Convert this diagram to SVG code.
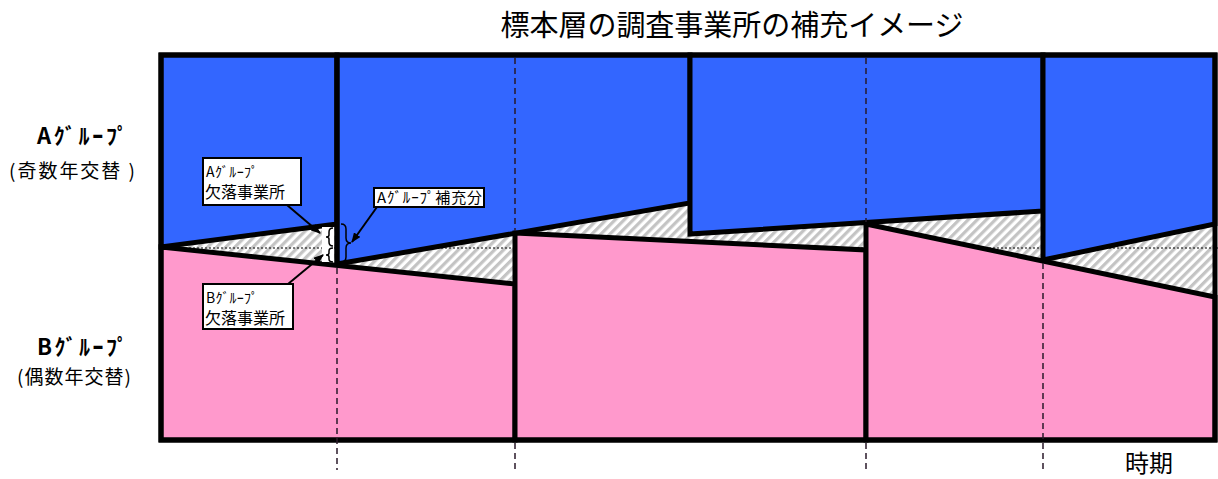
<svg xmlns="http://www.w3.org/2000/svg" width="1218" height="479" viewBox="0 0 1218 479">
<style>
.a{fill:#3366FF;stroke:#000;stroke-width:5;stroke-linejoin:miter}
.b{fill:#FF99CC;stroke:#000;stroke-width:5;stroke-linejoin:miter}
.dash{stroke:#2a1a2a;stroke-width:1.5;stroke-dasharray:6,4;fill:none}
.t{font-family:"Noto Sans CJK JP","Liberation Sans",sans-serif;fill:#000}
.box{fill:#fff;stroke:#000;stroke-width:2}
.arr{stroke:#000;stroke-width:2;fill:none;marker-end:url(#ah)}
.br{stroke:#000;stroke-width:1.5;fill:none}
</style>
<defs>
<pattern id="hatch" width="6.4" height="6.4" patternUnits="userSpaceOnUse" patternTransform="rotate(45)">
<rect width="6.4" height="6.4" fill="#fff"/>
<rect width="3.2" height="6.4" fill="#c4c4c4"/>
</pattern>
<marker id="ah" markerWidth="10" markerHeight="8" refX="9" refY="4" orient="auto" markerUnits="userSpaceOnUse">
<path d="M0,0 L10,4 L0,8 z" fill="#000"/>
</marker>
</defs>
<rect width="1218" height="479" fill="#fff"/>
<text class="t" x="732" y="36" font-size="29" text-anchor="middle" textLength="463" lengthAdjust="spacing">標本層の調査事業所の補充イメージ</text>
<g id="chart">
<rect x="161" y="195" width="1054" height="105" fill="url(#hatch)"/>
<line x1="161" y1="248" x2="1218" y2="248" stroke="#000" stroke-width="1" stroke-dasharray="2,2"/>
<g id="a1"><polygon class="a" points="161,55 337,55 337,224 161,247"/></g>
<g id="a2"><polygon class="a" points="337,55 690,55 690,203 337,264"/></g>
<g id="a3"><polygon class="a" points="690,55 1043,55 1043,211 690,234"/></g>
<g id="a4"><polygon class="a" points="1043,55 1215,55 1215,224 1043,260"/></g>
<g id="b1"><polygon class="b" points="161,247 515,284 515,440 161,440"/></g>
<g id="b2"><polygon class="b" points="515,233 866,250 866,440 515,440"/></g>
<g id="b3"><polygon class="b" points="866,224 1215,297 1215,440 866,440"/></g>
<rect x="161" y="55" width="1054" height="385" fill="none" stroke="#000" stroke-width="5"/>
<line x1="337" y1="55" x2="337" y2="266" stroke="#000" stroke-width="5"/>
<line class="dash" x1="337" y1="268" x2="337" y2="470"/>
<line class="dash" x1="515" y1="58" x2="515" y2="231"/>
<line class="dash" x1="515" y1="443" x2="515" y2="470"/>
<line class="dash" x1="866" y1="58" x2="866" y2="222"/>
<line class="dash" x1="866" y1="443" x2="866" y2="470"/>
<line class="dash" x1="1043" y1="263" x2="1043" y2="470"/>
<rect x="322" y="227" width="12" height="35" fill="#fff"/>
<path class="br" d="M333,228 Q329,228 329,232 L329,235 Q329,237 326,237 Q329,237 329,239 L329,242 Q329,246 333,246"/>
<path class="br" d="M333,248 Q329,248 329,251 L329,253 Q329,255 326,255 Q329,255 329,257 L329,259 Q329,262 333,262"/>
<path class="br" d="M341,224 Q346,224 346,229 L346,238 Q346,243 351,243 Q346,243 346,248 L346,257 Q346,262 341,262"/>
</g>
<g id="connectors">
<line class="arr" x1="287" y1="205" x2="320" y2="233"/>
<line class="arr" x1="288" y1="284" x2="323" y2="255"/>
<line class="arr" x1="377" y1="207" x2="352" y2="242"/>
</g>
<g id="callout-a-missing">
<rect class="box" x="203" y="158" width="98" height="47"/>
<text class="t" x="206" y="177" font-size="14" textLength="52" lengthAdjust="spacing">Aｸﾞﾙｰﾌﾟ</text>
<text class="t" x="205" y="198" font-size="16">欠落事業所</text>
</g>
<g id="callout-b-missing">
<rect class="box" x="203" y="284" width="90" height="45"/>
<text class="t" x="206" y="303" font-size="14" textLength="52" lengthAdjust="spacing">Bｸﾞﾙｰﾌﾟ</text>
<text class="t" x="205" y="324" font-size="16">欠落事業所</text>
</g>
<g id="callout-a-supplement">
<rect class="box" x="374" y="188" width="110" height="19"/>
<text class="t" x="377" y="203" font-size="15" textLength="105" lengthAdjust="spacing">Aｸﾞﾙｰﾌﾟ補充分</text>
</g>
<g id="label-a">
<text class="t" x="37" y="144" font-size="22" font-weight="bold" textLength="91" lengthAdjust="spacing">Aｸﾞﾙｰﾌﾟ</text>
<text class="t" x="9" y="178" font-size="19" textLength="126" lengthAdjust="spacing">(奇数年交替 )</text>
</g>
<g id="label-b">
<text class="t" x="37" y="355" font-size="22" font-weight="bold" textLength="91" lengthAdjust="spacing">Bｸﾞﾙｰﾌﾟ</text>
<text class="t" x="17" y="384" font-size="19" textLength="114" lengthAdjust="spacing">(偶数年交替)</text>
</g>
<text class="t" x="1149" y="472" font-size="24" text-anchor="middle">時期</text>
</svg>
